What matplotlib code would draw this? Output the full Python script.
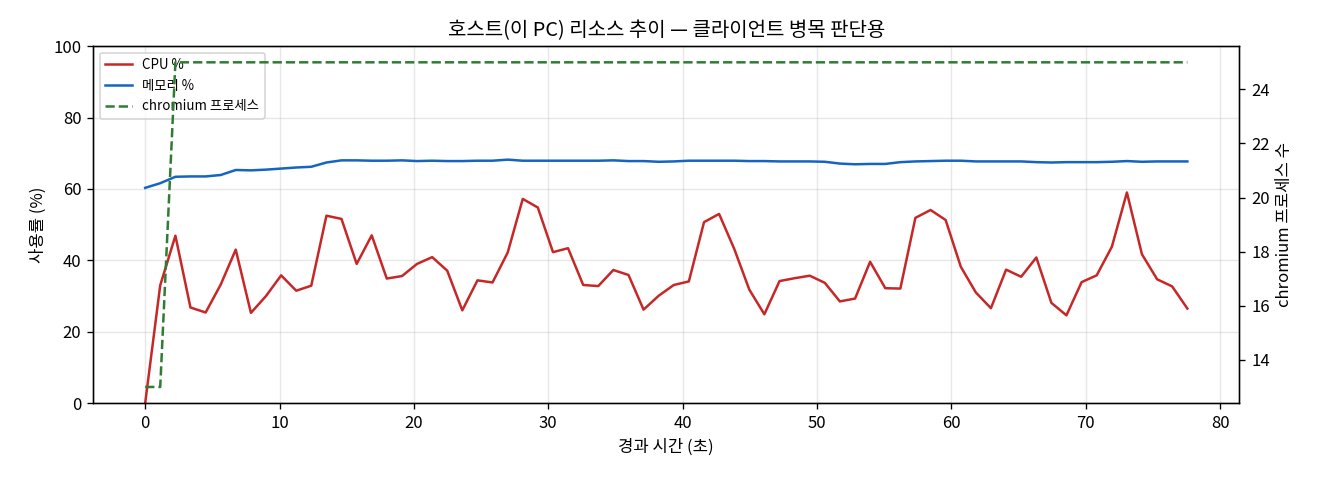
import matplotlib
matplotlib.use("Agg")
import matplotlib.pyplot as plt

plt.rcParams['font.family'] = ['Noto Sans CJK KR', 'DejaVu Sans']

# 경과 시간 (초)
t = [0.0, 1.12, 2.25, 3.37, 4.5, 5.62, 6.74, 7.87, 8.99, 10.12,
     11.24, 12.36, 13.49, 14.61, 15.74, 16.86, 17.98, 19.11, 20.23, 21.36,
     22.48, 23.6, 24.73, 25.85, 26.98, 28.1, 29.22, 30.35, 31.47, 32.6,
     33.72, 34.84, 35.97, 37.09, 38.22, 39.34, 40.46, 41.59, 42.71, 43.84,
     44.96, 46.08, 47.21, 48.33, 49.46, 50.58, 51.7, 52.83, 53.95, 55.08,
     56.2, 57.32, 58.45, 59.57, 60.7, 61.82, 62.94, 64.07, 65.19, 66.32,
     67.44, 68.56, 69.69, 70.81, 71.94, 73.06, 74.18, 75.31, 76.43, 77.56]

cpu = [0.0, 33.0, 46.9, 26.8, 25.4, 33.2, 43.0, 25.3, 30.0, 35.8,
       31.5, 32.9, 52.5, 51.6, 39.0, 47.0, 34.9, 35.6, 39.0, 40.9,
       37.1, 26.0, 34.4, 33.8, 42.2, 57.2, 54.8, 42.3, 43.4, 33.1,
       32.8, 37.3, 35.9, 26.2, 30.1, 33.1, 34.1, 50.7, 53.0, 43.2,
       31.8, 24.9, 34.2, 35.0, 35.7, 33.7, 28.5, 29.3, 39.6, 32.2,
       32.1, 51.9, 54.1, 51.3, 38.2, 31.0, 26.6, 37.4, 35.4, 40.8,
       28.1, 24.6, 33.9, 35.8, 43.8, 59.0, 41.7, 34.7, 32.7, 26.5]

mem = [60.3, 61.6, 63.4, 63.5, 63.5, 63.9, 65.3, 65.2, 65.4, 65.7,
       66.0, 66.2, 67.4, 68.0, 68.0, 67.9, 67.9, 68.0, 67.8, 67.9,
       67.8, 67.8, 67.9, 67.9, 68.2, 67.9, 67.9, 67.9, 67.9, 67.9,
       67.9, 68.0, 67.8, 67.8, 67.6, 67.7, 67.9, 67.9, 67.9, 67.9,
       67.8, 67.8, 67.7, 67.7, 67.7, 67.6, 67.1, 66.9, 67.0, 67.0,
       67.5, 67.7, 67.8, 67.9, 67.9, 67.7, 67.7, 67.7, 67.7, 67.5,
       67.4, 67.5, 67.5, 67.5, 67.6, 67.8, 67.6, 67.7, 67.7, 67.7]

chromium = [13, 13] + [25] * 68

fig, ax1 = plt.subplots(figsize=(11, 4), dpi=120)
l1, = ax1.plot(t, cpu, color='#c62828', lw=1.5, label='CPU %')
l2, = ax1.plot(t, mem, color='#1565c0', lw=1.5, label='메모리 %')
ax1.set_ylim(0, 100)
ax1.set_xlabel('경과 시간 (초)')
ax1.set_ylabel('사용률 (%)')
ax1.grid(True, alpha=0.3)
ax1.set_title('호스트(이 PC) 리소스 추이 — 클라이언트 병목 판단용')

ax2 = ax1.twinx()
l3, = ax2.plot(t, chromium, color='#2e7d32', lw=1.5, ls='--', label='chromium 프로세스')
ax2.set_ylabel('chromium 프로세스 수')

ax1.legend(handles=[l1, l2, l3], loc='upper left', fontsize=8)

fig.subplots_adjust(left=0.0705, right=0.939, top=0.904, bottom=0.16)
fig.savefig('out.png', dpi=120)
